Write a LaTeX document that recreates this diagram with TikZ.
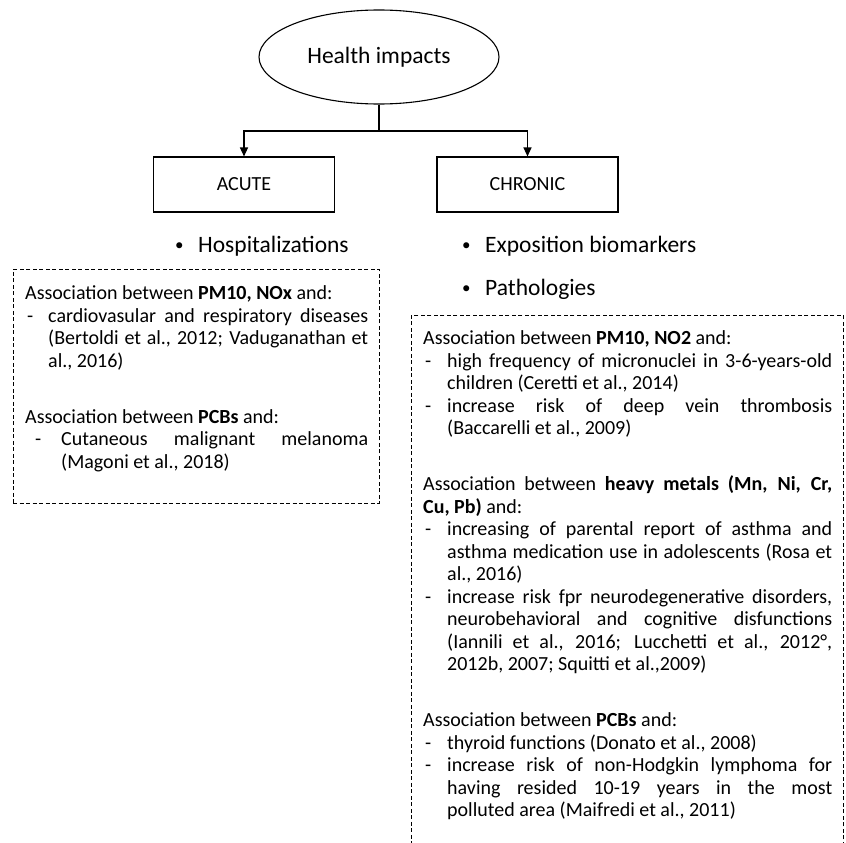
\documentclass[tikz,border=0pt]{standalone}
\usepackage{fontspec}
\setmainfont{Carlito}
\usetikzlibrary{positioning}
\usetikzlibrary{shapes.geometric,arrows.meta}

\tolerance=9999
\hyphenpenalty=10000
\exhyphenpenalty=10000

\newcommand{\dashitem}[2]{\par\hangindent=#2\hangafter=1\noindent\makebox[#2][l]{\hspace{#1}-}\ignorespaces}
\newcommand{\gapline}{\par\vspace{33.5pt}}
\newcommand{\dotmark}{\makebox[25pt][l]{\hspace{2pt}\fontsize{17}{17}\selectfont\raisebox{1.5pt}{•}}}

\begin{document}
\begin{tikzpicture}[
    x=1pt, y=-1pt,
    bubble/.style={draw,ellipse,line width=1.1pt,minimum width=240pt,minimum height=94pt,inner sep=0pt,font=\fontsize{23.5}{28}\selectfont},
    kind/.style={draw,rectangle,line width=1.1pt,minimum width=181pt,minimum height=55pt,font=\fontsize{20}{24}\selectfont},
    bullet/.style={anchor=base west,inner sep=0pt,font=\fontsize{23.5}{28}\selectfont},
    frame/.style={draw,dash pattern=on 4pt off 2.5pt,line width=0.8pt,anchor=north west,inner sep=0pt},
    notes/.style={anchor=north west,inner sep=0pt,align=justify,font=\fontsize{20}{22.5}\selectfont},
    link/.style={line width=1.3pt}
    ]
    \useasboundingbox (0,0) rectangle (846,843);

    \node[bubble] (health) at (379,57) {Health impacts};
    \node[kind] (acute) at (244,184.5) {ACUTE};
    \node[kind] (chronic) at (527.5,184.5) {CHRONIC};
    \coordinate (split) at (379,131);

    \draw[link] (health) -- (split);
    \draw[link,-{Triangle[length=9pt,width=8pt]}] (split) -| (acute);
    \draw[link,-{Triangle[length=9pt,width=8pt]}] (split) -| (chronic);

    \node[bullet] (hosp) at (173,252) {\dotmark Hospitalizations};
    \node[bullet] (expo) at (460,252) {\dotmark Exposition biomarkers};
    \node[bullet] (patho) at (460,295) {\dotmark Pathologies};

    % dashed frames
    \node[frame,minimum width=366pt,minimum height=234pt] (acutebox) at (12.7,269) {};
    \node[frame,minimum width=432pt,minimum height=560pt] (chronicbox) at (411,315) {};

    \node[notes,text width=343pt] (acutetext) at (25,285.5) {%
      Association between \textbf{PM10, NOx} and:
      \dashitem{2pt}{23pt}cardiovasular and respiratory diseases \linebreak
      (Bertoldi et al., 2012; Vaduganathan et \linebreak al., 2016)
      \gapline
      \noindent Association between \textbf{PCBs} and:
      \dashitem{10pt}{36pt}Cutaneous malignant melanoma \linebreak
      (Magoni et al., 2018)\par};

    \node[notes,text width=409pt] (chronictext) at (423,330.5) {%
      Association between \textbf{PM10, NO2} and:
      \dashitem{2pt}{24pt}high frequency of micronuclei in 3-6-years-old \linebreak
      children (Ceretti et al., 2014)
      \dashitem{2pt}{24pt}increase risk of deep vein thrombosis \linebreak
      (Baccarelli et al., 2009)
      \gapline
      \noindent Association between \textbf{heavy metals (Mn, Ni, Cr,} \linebreak
      \textbf{Cu, Pb)} and:
      \dashitem{2pt}{24pt}increasing of parental report of asthma and \linebreak
      asthma medication use in adolescents (Rosa et \linebreak al., 2016)
      \dashitem{2pt}{24pt}increase risk fpr neurodegenerative disorders, \linebreak
      neurobehavioral and cognitive disfunctions \linebreak
      (Iannili et al., 2016; Lucchetti et al., 2012°, \linebreak
      2012b, 2007; Squitti et al.,2009)
      \gapline
      \noindent Association between \textbf{PCBs} and:
      \dashitem{2pt}{24pt}thyroid functions (Donato et al., 2008)
      \dashitem{2pt}{24pt}increase risk of non-Hodgkin lymphoma for \linebreak
      having resided 10-19 years in the most \linebreak
      polluted area (Maifredi et al., 2011)\par};

\end{tikzpicture}
\end{document}
